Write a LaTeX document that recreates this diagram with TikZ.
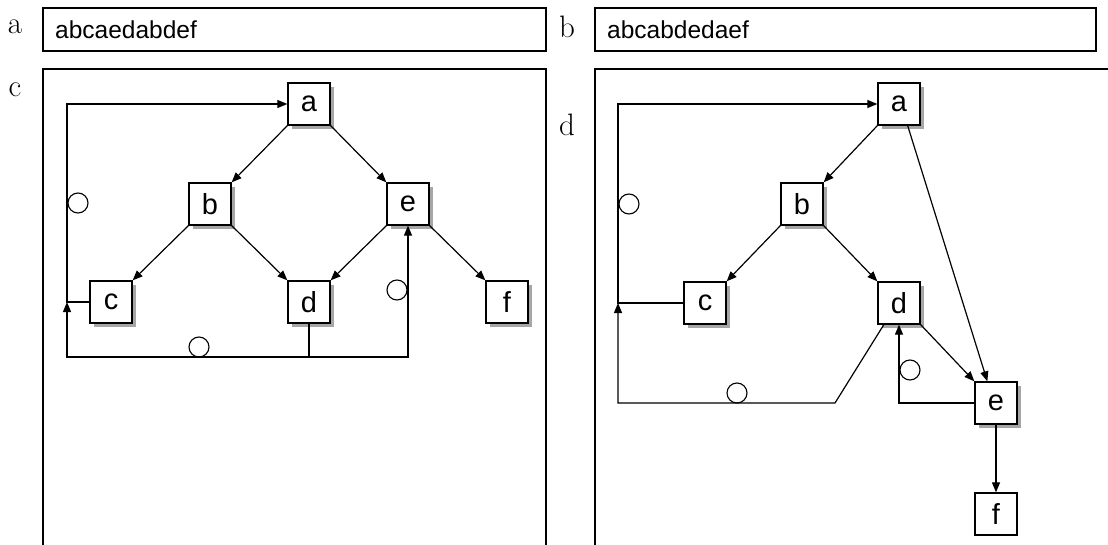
\documentclass[tikz,border=0pt]{standalone}
\usepackage{fontspec}
\setsansfont{Liberation Sans}
\usetikzlibrary{shadows,arrows.meta,calc}
\begin{document}
\begin{tikzpicture}[x=1pt,y=-1pt,
  vbox/.style={draw,line width=1.3pt,fill=white,minimum width=42pt,minimum height=42pt,inner sep=0pt,
    font=\sffamily\fontsize{29}{29}\selectfont},
  shad/.style={drop shadow={shadow xshift=4pt,shadow yshift=-4pt,fill=gray!70,opacity=1}},
  edge/.style={line width=1.2pt,-{Triangle[length=10pt,width=8pt]}},
  plain/.style={line width=1.2pt},
  ring/.style={draw,line width=1.1pt,circle,minimum size=20pt,inner sep=0pt},
  frame/.style={line width=1.3pt},
  plabel/.style={font=\fontsize{31}{31}\selectfont},
  btext/.style={anchor=west,inner sep=0pt,font=\sffamily\fontsize{24.5}{24.5}\selectfont}]
\useasboundingbox (0,0) rectangle (1108,545);
\begin{scope}
\clip (0,0) rectangle (1108,545);
% top boxes
\node[plabel] (la) at (15,27) {a};
\node[draw,frame,minimum width=503pt,minimum height=43pt,inner sep=0pt] (ba) at (294.5,29.5) {};
\node[btext] (ta) at (55,29.5) {abcaedabdef};
\node[plabel] (lb) at (567,27) {b};
\node[draw,frame,minimum width=501pt,minimum height=43pt,inner sep=0pt] (bb) at (845.5,29.5) {};
\node[btext] (tb) at (607,29.5) {abcabdedaef};
% bottom panels
\node[plabel] (lc) at (15,90) {c};
\draw[frame] (43,550) -- (43,69) -- (546,69) -- (546,550);
\node[plabel] (ld) at (567,125) {d};
\draw[frame] (595,550) -- (595,69) -- (1115,69);

% ---------- panel c ----------
\node[vbox,shad] (ca) at (309,104) {a};
\node[vbox,shad] (cb) at (210,204) {b};
\node[vbox,shad] (ce) at (408,204) {e};
\node[vbox,shad] (cc) at (111,302) {c};
\node[vbox,shad] (cd) at (309,302) {d};
\node[vbox,shad] (cf) at (507,302) {f};
\draw[edge] (ca.south west) -- (cb.north east);
\draw[edge] (ca.south east) -- (ce.north west);
\draw[edge] (cb.south west) -- (cc.north east);
\draw[edge] (cb.south east) -- (cd.north west);
\draw[edge] (ce.south west) -- (cd.north east);
\draw[edge] (ce.south east) -- (cf.north west);
\coordinate (cL) at (67,302);
\coordinate (cB) at (309,357);
\draw[edge] (cc.west) -- (cL) |- (ca.west);
\draw[plain] (cd.south) -- (cB);
\draw[edge] (cB) -| (cL);
\draw[edge] (cB) -| (ce.south);
\node[ring] (c1) at (78,203) {};
\node[ring] (c2) at (397,290) {};
\node[ring] (c3) at (199,347) {};

% ---------- panel d ----------
\node[vbox,shad] (da) at (899,104) {a};
\node[vbox,shad] (db) at (802,204) {b};
\node[vbox,shad] (dc) at (705,303) {c};
\node[vbox,shad] (dd) at (899,303) {d};
\node[vbox,shad] (de) at (996,403) {e};
\node[vbox] (df) at (996,514) {f};
\draw[edge] (da.south west) -- (db.north east);
\draw[edge] (db.south west) -- (dc.north east);
\draw[edge] (db.south east) -- (dd.north west);
\draw[edge] (dd.south east) -- (de.north west);
\draw[edge] ($(da.south)!0.4!(da.south east)$) -- ($(de.north)!0.4!(de.north west)$);
\draw[edge] (de.south) -- (df.north);
\draw[edge] (de.west) -| (dd.south);
\coordinate (dL) at (618,303);
\coordinate (dK) at (835,403);
\draw[edge] (dc.west) -- (dL) |- (da.west);
\draw[edge] (dd.-125) -- (dK) -| (dL);
\node[ring] (d1) at (629,204) {};
\node[ring] (d2) at (737,393) {};
\node[ring] (d3) at (910,370) {};
\end{scope}
\end{tikzpicture}
\end{document}
